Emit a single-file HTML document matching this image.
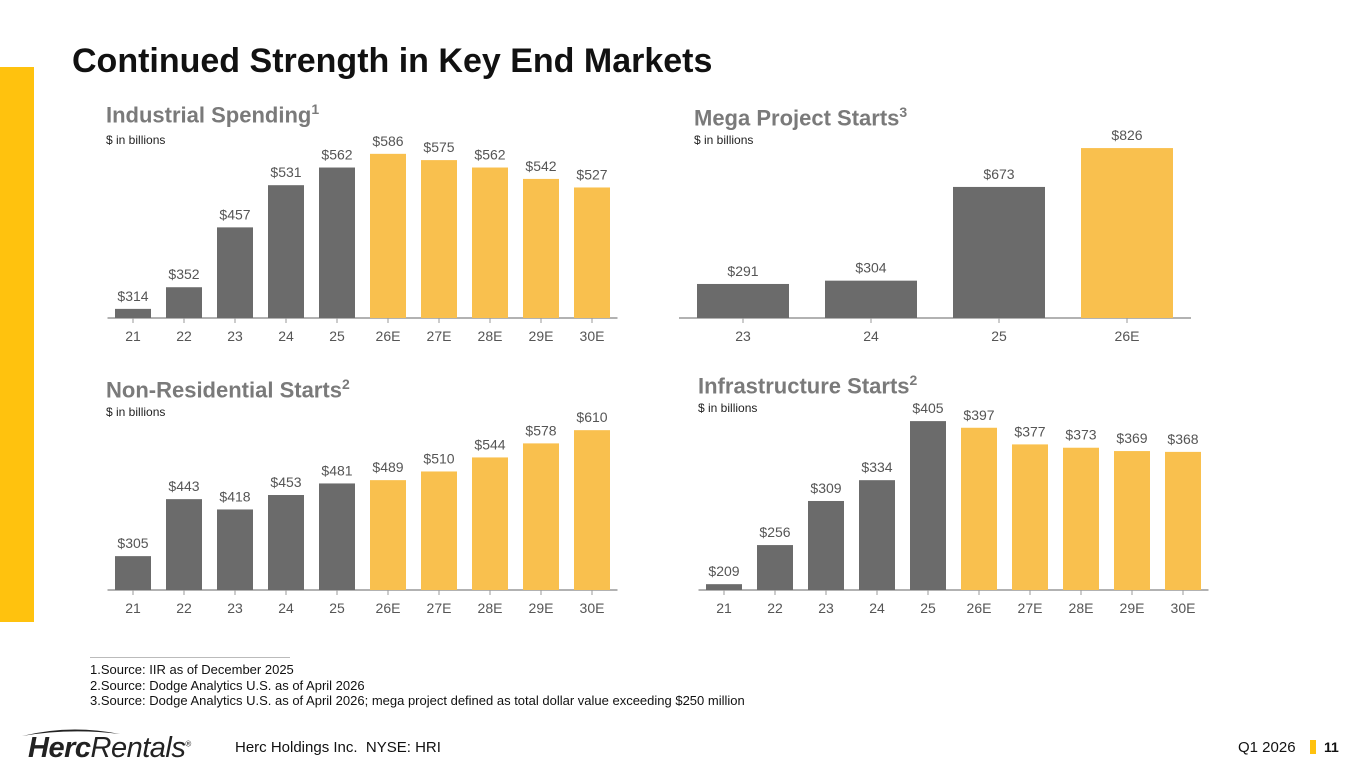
<!DOCTYPE html>
<html><head><meta charset="utf-8">
<style>
body{margin:0;width:1365px;height:768px;background:#fff;font-family:"Liberation Sans",Arial,sans-serif;position:relative;overflow:hidden}
.abs{position:absolute}
.t{font-weight:bold;font-size:22px;color:#7a7a7a}
.t sup{font-size:14px}
.sub{font-size:12px;color:#222}
</style></head><body>
<div class="abs" style="left:0;top:67px;width:34px;height:555px;background:#ffc20e"></div>
<div class="abs" style="left:72px;top:42px;font-size:34px;font-weight:bold;color:#111">Continued Strength in Key End Markets</div>

<div class="abs t" style="left:106px;top:101px">Industrial Spending<sup>1</sup></div>
<div class="abs sub" style="left:106px;top:133px">$ in billions</div>
<div class="abs t" style="left:694px;top:104px">Mega Project Starts<sup>3</sup></div>
<div class="abs sub" style="left:694px;top:133px">$ in billions</div>
<div class="abs t" style="left:106px;top:376px">Non-Residential Starts<sup>2</sup></div>
<div class="abs sub" style="left:106px;top:405px">$ in billions</div>
<div class="abs t" style="left:698px;top:372px">Infrastructure Starts<sup>2</sup></div>
<div class="abs sub" style="left:698px;top:401px">$ in billions</div>

<svg class="abs" id="charts" style="left:0;top:0" width="1365" height="768"></svg>

<div class="abs" style="left:90px;top:657px;width:200px;height:1px;background:#bbb"></div>
<div class="abs" style="left:90px;top:662px;font-size:13px;line-height:15.5px;color:#111">1.Source: IIR as of December 2025<br>2.Source: Dodge Analytics U.S. as of April 2026<br>3.Source: Dodge Analytics U.S. as of April 2026; mega project defined as total dollar value exceeding $250 million</div>

<div class="abs" style="left:28px;top:732px;font-size:29px;color:#222;font-style:italic;letter-spacing:-0.5px"><b style="font-weight:900">Herc</b>Rentals<sup style="font-size:8px;font-style:normal">®</sup></div>
<svg class="abs" style="left:20px;top:726px" width="110" height="12"><path d="M2 10 Q50 -2 100 8 Q50 2 2 10Z" fill="#222"/></svg>
<div class="abs" style="left:235px;top:739px;font-size:15px;color:#111">Herc Holdings Inc.&nbsp; NYSE: HRI</div>
<div class="abs" style="left:1238px;top:739px;font-size:15px;color:#111">Q1 2026</div>
<div class="abs" style="left:1310px;top:740px;width:6px;height:14px;background:#ffc20e"></div>
<div class="abs" style="left:1324px;top:739px;font-size:14px;font-weight:bold;color:#111">11</div>

<script>
const indCats=["21","22","23","24","25","26E","27E","28E","29E","30E"];
const indVals=[314,352,457,531,562,586,575,562,542,527];
const megaCats=["23","24","25","26E"];
const megaVals=[291,304,673,826];
const nonCats=["21","22","23","24","25","26E","27E","28E","29E","30E"];
const nonVals=[305,443,418,453,481,489,510,544,578,610];
const infCats=["21","22","23","24","25","26E","27E","28E","29E","30E"];
const infVals=[209,256,309,334,405,397,377,373,369,368];
const indEst=[0,0,0,0,0,1,1,1,1,1];
const megaEst=[0,0,0,1];
const nonEst=[0,0,0,0,0,1,1,1,1,1];
const infEst=[0,0,0,0,0,1,1,1,1,1];

const svg=document.getElementById('charts');
const NS='http://www.w3.org/2000/svg';
function mk(tag,attrs){const e=document.createElementNS(NS,tag);for(const k in attrs)e.setAttribute(k,attrs[k]);svg.appendChild(e);return e;}
function chart(name,cats,vals,est,x0,x1,base,floorV,scale,bw){
  const step=(x1-x0)/cats.length;
  const xs=i=>x0+step*(i+0.5);
  const ys=v=>base-(v-floorV)*scale;
  const ax=mk('line',{x1:x0,x2:x1,y1:base,y2:base,stroke:'#999','stroke-width':1.5});
  
  
  vals.forEach((v,i)=>{
    const cx=xs(i),y=ys(v);
    const r=mk('rect',{x:cx-bw/2,y:y,width:bw,height:base-y,fill:est[i]?'#f9c04e':'#6b6b6b'});
    
    
    const tk=mk('line',{x1:cx,x2:cx,y1:base,y2:base+5,stroke:'#999'});
    
    
    const lb=mk('text',{x:cx,y:y-8,'text-anchor':'middle','font-size':14,fill:'#555','font-family':'Liberation Sans, sans-serif'});
    lb.textContent='$'+v;
    
    
    const cl=mk('text',{x:cx,y:base+23,'text-anchor':'middle','font-size':14,fill:'#555','font-family':'Liberation Sans, sans-serif'});
    cl.textContent=cats[i];
    
    
  });
}
chart('industrial',indCats,indVals,indEst,107.5,617.5,318,298,0.57,36);
chart('mega',megaCats,megaVals,megaEst,679,1191,318,157,0.254,92);
chart('nonres',nonCats,nonVals,nonEst,107.5,617.5,590,223,0.413,36);
chart('infra',infCats,infVals,infEst,698.5,1208.5,590,202,0.832,36);
</script>
</body></html>
